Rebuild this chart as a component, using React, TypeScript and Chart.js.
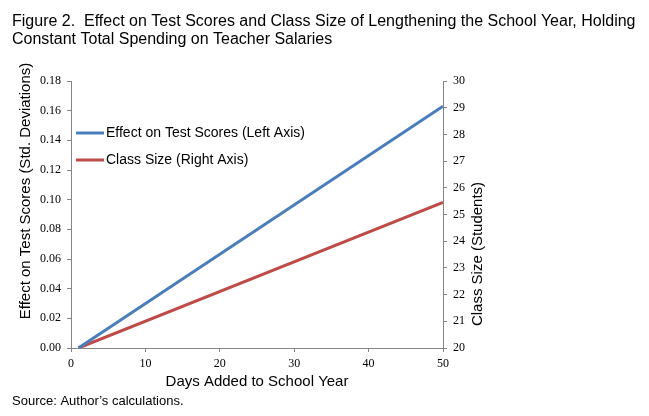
import React, { useEffect, useRef } from "react";
import { Chart, registerables } from "chart.js";

Chart.register(...registerables);

const titleLines = [
  "Figure 2.  Effect on Test Scores and Class Size of Lengthening the School Year, Holding",
  "Constant Total Spending on Teacher Salaries",
];
const sourceText = "Source: Author\u2019s calculations.";
const xTitle = "Days Added to School Year";
const yLeftTitle = "Effect on Test Scores (Std. Deviations)";
const yRightTitle = "Class Size (Students)";

const seriesNames = ["Effect on Test Scores (Left Axis)", "Class Size (Right Axis)"];
const daysAdded = [1, 50];
const testScoreEffect = [0, 0.163];
const classSize = [20, 25.45];

const BLUE = "#4A7EBB";
const RED = "#BE4B48";
const AXIS = "#868686";

const textPlugin = {
  id: "textPlugin",
  afterDraw(chart: any) {
    const ctx = chart.ctx;
    const ca = chart.chartArea;
    ctx.save();
    ctx.fillStyle = "#000";
    // title
    ctx.font = "16px 'Liberation Sans', Arial, sans-serif";
    ctx.textAlign = "left";
    ctx.textBaseline = "alphabetic";
    ctx.fillText(titleLines[0], 12, 26);
    ctx.fillText(titleLines[1], 12, 44);
    // source
    ctx.font = "13px 'Liberation Sans', Arial, sans-serif";
    ctx.textBaseline = "middle";
    ctx.fillText(sourceText, 12, 401);
    // axis titles
    ctx.font = "15px 'Liberation Sans', Arial, sans-serif";
    ctx.textAlign = "center";
    ctx.fillText(xTitle, (ca.left + ca.right) / 2, 382);
    ctx.save();
    ctx.translate(26, 191);
    ctx.rotate(-Math.PI / 2);
    ctx.fillText(yLeftTitle, 0, 0);
    ctx.restore();
    ctx.save();
    ctx.translate(478, 254);
    ctx.rotate(-Math.PI / 2);
    ctx.fillText(yRightTitle, 0, 0);
    ctx.restore();
    // legend
    ctx.font = "14px 'Liberation Sans', Arial, sans-serif";
    ctx.textAlign = "left";
    const items = chart.data.datasets;
    const ys = [133, 160];
    items.forEach((ds: any, i: number) => {
      ctx.strokeStyle = ds.borderColor;
      ctx.lineWidth = 3;
      ctx.beginPath();
      ctx.moveTo(76, ys[i]);
      ctx.lineTo(104, ys[i]);
      ctx.stroke();
      ctx.fillStyle = "#000";
      ctx.fillText(ds.label, 106, ys[i]);
    });
    ctx.restore();
  },
};

export default function App() {
  const ref = useRef<HTMLCanvasElement>(null);
  useEffect(() => {
    if (!ref.current) return;
    const tickFont = { family: "'Liberation Serif', 'Times New Roman', serif", size: 12 };
    const grid = {
      drawOnChartArea: false,
      drawTicks: true,
      tickLength: 4,
      color: AXIS,
    };
    const chart = new Chart(ref.current, {
      type: "line",
      data: {
        datasets: [
          {
            label: seriesNames[0],
            data: daysAdded.map((d, i) => ({ x: d, y: testScoreEffect[i] })),
            borderColor: BLUE,
            backgroundColor: BLUE,
            borderWidth: 3,
            pointRadius: 0,
            yAxisID: "y",
          },
          {
            label: seriesNames[1],
            data: daysAdded.map((d, i) => ({ x: d, y: classSize[i] })),
            borderColor: RED,
            backgroundColor: RED,
            borderWidth: 3,
            pointRadius: 0,
            yAxisID: "y1",
          },
        ],
      },
      options: {
        responsive: false,
        animation: false,
        layout: { padding: { top: 81, left: 0, right: 0, bottom: 0 } },
        plugins: { legend: { display: false }, title: { display: false }, tooltip: { enabled: false } },
        scales: {
          x: {
            type: "linear",
            min: 0,
            max: 50,
            ticks: { stepSize: 10, font: tickFont, color: "#000", padding: 5, maxRotation: 0 },
            grid,
            border: { color: AXIS },
            afterFit: (s: any) => {
              s.height = 68;
            },
          },
          y: {
            position: "left",
            min: 0,
            max: 0.18,
            ticks: {
              stepSize: 0.02,
              font: tickFont,
              color: "#000",
              padding: 6,
              callback: (v: any) => Number(v).toFixed(2),
            },
            grid,
            border: { color: AXIS },
            afterFit: (s: any) => {
              s.width = 71;
            },
          },
          y1: {
            position: "right",
            min: 20,
            max: 30,
            ticks: { stepSize: 1, font: tickFont, color: "#000", padding: 6 },
            grid,
            border: { color: AXIS },
            afterFit: (s: any) => {
              s.width = 206;
            },
          },
        },
      },
      plugins: [textPlugin],
    } as any);
    return () => chart.destroy();
  }, []);
  return (
    <div style={{ position: "fixed", left: 0, top: 0, width: 649, height: 416, background: "#fff" }}>
      <canvas ref={ref} width={649} height={416} style={{ width: 649, height: 416 }} />
    </div>
  );
}
